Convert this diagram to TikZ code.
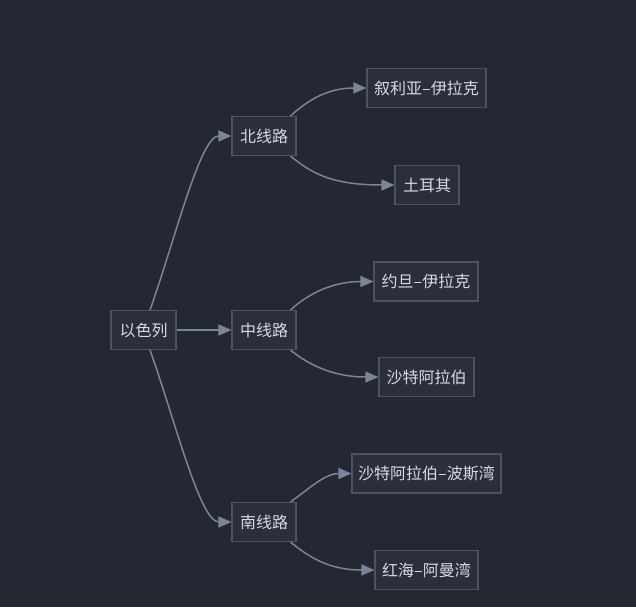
\documentclass[tikz,border=0pt]{standalone}
\usepackage{fontspec}
\newfontfamily\cjk{Noto Sans CJK SC}
\usetikzlibrary{arrows.meta}
\definecolor{bg}{HTML}{242832}
\definecolor{boxfill}{HTML}{2B2F3B}
\definecolor{boxline}{HTML}{4C5262}
\definecolor{txt}{HTML}{D6DAE2}
\definecolor{edge}{HTML}{7A859A}
\begin{document}
\begin{tikzpicture}[x=1pt,y=-1pt,
  box/.style={draw=boxline,fill=boxfill,line width=1.2pt,text=txt,font=\cjk\fontsize{16}{19}\selectfont,inner sep=0pt,minimum height=39pt},
  link/.style={draw=edge,line width=1.5pt,-{Triangle[length=13pt,width=11pt]}}]
\fill[bg] (0,0) rectangle (636,607);
\useasboundingbox (0,0) rectangle (636,607);
\node[box,minimum width=65pt] (isr) at (143.5,330) {以色列};
\node[box,minimum width=64pt] (n) at (264,136) {北线路};
\node[box,minimum width=64pt] (m) at (264,330) {中线路};
\node[box,minimum width=64pt] (s) at (264,522) {南线路};
\node[box,minimum width=119pt] (n1) at (426.5,88) {叙利亚–伊拉克};
\node[box,minimum width=64pt] (n2) at (427,185) {土耳其};
\node[box,minimum width=104pt] (m1) at (426,281.5) {约旦–伊拉克};
\node[box,minimum width=95pt] (m2) at (426.5,377) {沙特阿拉伯};
\node[box,minimum width=149pt] (s1) at (426.5,473.5) {沙特阿拉伯–波斯湾};
\node[box,minimum width=103pt] (s2) at (426.5,570) {红海–阿曼湾};
\coordinate (a1) at (150,310);
\coordinate (a3) at (150,350);
\draw[link] (a1) .. controls (175,240) and (200,136) .. (n.west);
\draw[link] (isr.east) -- (m.west);
\draw[link] (a3) .. controls (175,420) and (200,522) .. (s.west);
\draw[link] (n.north east) ++(-6,0) .. controls (310,98) and (330,88) .. (n1.west);
\draw[link] (n.south east) ++(-6,0) .. controls (310,172) and (330,185) .. (n2.west);
\draw[link] (m.north east) ++(-6,0) .. controls (310,292) and (335,281.5) .. (m1.west);
\draw[link] (m.south east) ++(-6,0) .. controls (310,366) and (335,377) .. (m2.west);
\draw[link] (s.north east) ++(-6,0) .. controls (310,488) and (325,473.5) .. (s1.west);
\draw[link] (s.south east) ++(-6,0) .. controls (310,558) and (330,570) .. (s2.west);
\end{tikzpicture}
\end{document}
